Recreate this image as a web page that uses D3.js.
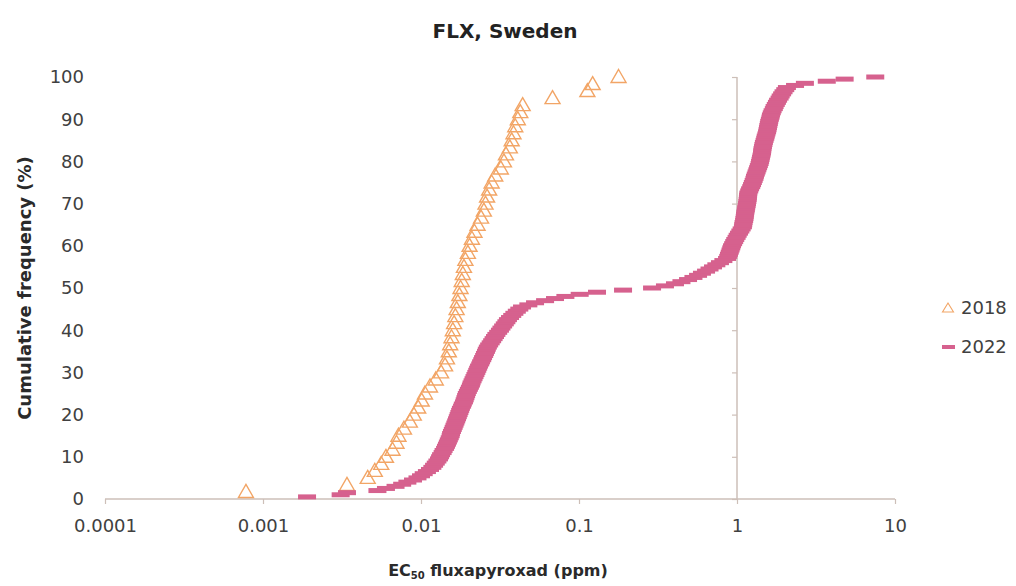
<!DOCTYPE html>
<html><head><meta charset="utf-8">
<script src="https://cdn.jsdelivr.net/npm/d3@7"></script>
<style>
body{margin:0;background:#fff;}
svg{display:block;}
text{font-family:"DejaVu Sans",sans-serif;fill:#404040;}
</style>
</head><body>
<svg id="chart" width="1016" height="586"></svg>
<script>
const chartTitle = "FLX, Sweden";
const yAxisTitle = "Cumulative frequency (%)";
const xAxisTitleMain = "EC";
const xAxisTitleSub = "50";
const xAxisTitleRest = " fluxapyroxad (ppm)";
const xTicks = [0.0001, 0.001, 0.01, 0.1, 1, 10];
const xTickLabels = ["0.0001", "0.001", "0.01", "0.1", "1", "10"];
const yTicks = [0, 10, 20, 30, 40, 50, 60, 70, 80, 90, 100];
const seriesNames = ["2018", "2022"];

// EC50 values (ppm), sorted; cumulative frequency = rank / n * 100
const ec50_2018 = [
  0.00078, 0.0034, 0.0046, 0.0051, 0.0056, 0.0060, 0.0066, 0.0070, 0.0072, 0.0078,
  0.0085, 0.0090, 0.0096, 0.0101, 0.0106, 0.0114, 0.0124, 0.0134, 0.0142, 0.0146,
  0.0150, 0.0153, 0.0156, 0.0159, 0.0162, 0.0165, 0.0168, 0.0171, 0.0175, 0.0178,
  0.0181, 0.0184, 0.0187, 0.0191, 0.0198, 0.0203, 0.0210, 0.0218, 0.0228, 0.0240,
  0.0250, 0.0256, 0.0262, 0.0270, 0.0280, 0.0295, 0.0320, 0.0335, 0.0345, 0.0365,
  0.0375, 0.0385, 0.0395, 0.0410, 0.0425, 0.0440, 0.068, 0.113, 0.122, 0.178
];
const ec50_2022 = [
  0.0019, 0.0031, 0.0034, 0.0053, 0.0060, 0.0069, 0.0076, 0.0082, 0.0089, 0.0095,
  0.0100, 0.0104, 0.0109, 0.0114, 0.0118, 0.0121, 0.0124, 0.0127, 0.0130, 0.0132,
  0.0134, 0.0137, 0.0139, 0.0142, 0.0144, 0.0146, 0.0148, 0.0150, 0.0152, 0.0154,
  0.0155, 0.0157, 0.0159, 0.0161, 0.0163, 0.0165, 0.0167, 0.0169, 0.0171, 0.0173,
  0.0175, 0.0177, 0.0179, 0.0182, 0.0184, 0.0187, 0.0189, 0.0191, 0.0193, 0.0195,
  0.0198, 0.0201, 0.0204, 0.0207, 0.0209, 0.0212, 0.0215, 0.0218, 0.0221, 0.0224,
  0.0227, 0.0230, 0.0233, 0.0237, 0.0240, 0.0244, 0.0247, 0.0251, 0.0254, 0.0258,
  0.0261, 0.0265, 0.0270, 0.0276, 0.0282, 0.0288, 0.0294, 0.0300, 0.0308, 0.0316,
  0.0323, 0.0331, 0.0339, 0.0347, 0.0355, 0.0366, 0.0378, 0.0390, 0.0404, 0.0419,
  0.0436, 0.0478, 0.0527, 0.0610, 0.0705, 0.0820, 0.101, 0.130, 0.190, 0.290,
  0.350, 0.405, 0.445, 0.490, 0.530, 0.567, 0.600, 0.637, 0.670, 0.705,
  0.740, 0.780, 0.820, 0.865, 0.880, 0.890, 0.900, 0.910, 0.920, 0.930,
  0.945, 0.960, 0.975, 0.994, 1.01, 1.03, 1.05, 1.07, 1.09, 1.095,
  1.10, 1.11, 1.115, 1.12, 1.125, 1.13, 1.137, 1.143, 1.15, 1.157,
  1.163, 1.168, 1.172, 1.176, 1.18, 1.195, 1.21, 1.23, 1.245, 1.26,
  1.275, 1.29, 1.30, 1.315, 1.33, 1.345, 1.36, 1.375, 1.39, 1.40,
  1.41, 1.42, 1.43, 1.44, 1.445, 1.45, 1.46, 1.47, 1.48, 1.495,
  1.51, 1.52, 1.535, 1.55, 1.56, 1.57, 1.58, 1.59, 1.60, 1.615,
  1.63, 1.64, 1.66, 1.68, 1.71, 1.73, 1.76, 1.79, 1.82, 1.86,
  1.89, 1.93, 1.97, 2.02, 2.07, 2.33, 2.69, 3.70, 4.80, 7.50
];

const colors = {"2018": "#f2a566", "2022": "#d6618e"};
const axisColor = "#cdbfb8";
const textColor = "#404040";

const svg = d3.select("#chart");
const x = d3.scaleLog().domain([0.0001, 10]).range([105, 895]);
const y = d3.scaleLinear().domain([0, 100]).range([499, 77]);

function cum(arr){ const n = arr.length; return arr.map((v,i)=>({x:v, y:(i+1)/n*100})); }
const d2018 = cum(ec50_2018);
const d2022 = cum(ec50_2022);

// Title
svg.append("text").attr("x", 505).attr("y", 38).attr("text-anchor","middle")
  .attr("font-size", 20).attr("font-weight", "bold").style("fill","#222").text(chartTitle);

// X axis
const xAxis = svg.append("g").attr("transform", `translate(0,${y(0)})`)
  .call(d3.axisBottom(x).tickValues(xTicks).tickSize(5).tickFormat((d,i)=>xTickLabels[i]).tickPadding(15));
xAxis.select(".domain").attr("stroke", axisColor).attr("stroke-width", 1.5).attr("d", `M${x(0.0001)},0H${x(10)}`);
xAxis.selectAll(".tick line").attr("stroke", axisColor).attr("stroke-width", 1.2);
xAxis.selectAll(".tick text").attr("font-size", 18).attr("font-family","'DejaVu Sans',sans-serif").style("fill", textColor);

// Y axis (crosses at x = 1)
const yAxis = svg.append("g").attr("transform", `translate(${x(1)},0)`)
  .call(d3.axisLeft(y).tickValues(yTicks).tickSize(5).tickFormat(""));
yAxis.select(".domain").attr("stroke", axisColor).attr("stroke-width", 1.5).attr("d", `M0,${y(0)}V${y(100)}`);
yAxis.selectAll(".tick line").attr("stroke", axisColor).attr("stroke-width", 1.2);

// Y tick labels at the low end
svg.append("g").selectAll("text").data(yTicks).join("text")
  .attr("x", 84).attr("y", d => y(d)).attr("dy", "0.36em")
  .attr("text-anchor", "end").attr("font-size", 18).text(d => d);

// Axis titles
svg.append("text").attr("transform", `translate(25,${(y(0)+y(100))/2}) rotate(-90)`)
  .attr("text-anchor","middle").attr("dy","0.36em").attr("font-size", 18).attr("font-weight","bold").style("fill","#2a2a2a")
  .text(yAxisTitle);
const xt = svg.append("text").attr("x", 498).attr("y", 576).attr("text-anchor","middle")
  .attr("font-size", 16).attr("font-weight","bold").style("fill","#2a2a2a");
xt.append("tspan").text(xAxisTitleMain);
xt.append("tspan").attr("font-size", 10).attr("dy", 3).text(xAxisTitleSub);
xt.append("tspan").attr("dy", -3).text(xAxisTitleRest);

// Markers
const triPath = "M0,-7.5L7.5,5.5L-7.5,5.5Z";
svg.append("g").selectAll("path").data(d2018).join("path")
  .attr("transform", d => `translate(${x(d.x)},${y(d.y)})`)
  .attr("d", triPath).attr("fill", "none").attr("stroke", colors["2018"]).attr("stroke-width", 1.4);

svg.append("g").selectAll("rect").data(d2022).join("rect")
  .attr("x", d => x(d.x) - 9).attr("y", d => y(d.y) - 2.5)
  .attr("width", 18).attr("height", 5).attr("fill", colors["2022"]);

// Legend
const lg = svg.append("g");
lg.append("path").attr("transform", "translate(948,308)").attr("d", "M0,-5L5.5,4L-5.5,4Z")
  .attr("fill","none").attr("stroke", colors["2018"]).attr("stroke-width", 1.1);
lg.append("text").attr("x", 961).attr("y", 308).attr("dy","0.36em").attr("font-size", 18).text(seriesNames[0]);
lg.append("rect").attr("x", 942).attr("y", 345).attr("width", 13).attr("height", 4).attr("fill", colors["2022"]);
lg.append("text").attr("x", 961).attr("y", 347).attr("dy","0.36em").attr("font-size", 18).text(seriesNames[1]);
</script>
</body></html>
